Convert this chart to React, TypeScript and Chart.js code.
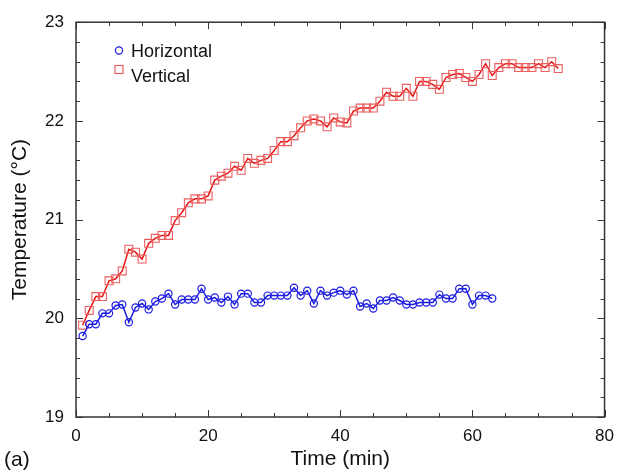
import React, { useEffect, useRef } from "react";
import { Chart, registerables } from "chart.js";

Chart.register(...registerables);

const timeMin = [
  1, 2, 3, 4, 5, 6, 7, 8, 9, 10, 11, 12, 13, 14, 15, 16, 17, 18, 19, 20,
  21, 22, 23, 24, 25, 26, 27, 28, 29, 30, 31, 32, 33, 34, 35, 36, 37, 38, 39, 40,
  41, 42, 43, 44, 45, 46, 47, 48, 49, 50, 51, 52, 53, 54, 55, 56, 57, 58, 59, 60,
  61, 62, 63, 64, 65, 66, 67, 68, 69, 70, 71, 72, 73,
];

const horizontalTemp = [
  19.82, 19.94, 19.94, 20.05, 20.05, 20.13, 20.14, 19.96, 20.11, 20.15,
  20.09, 20.17, 20.2, 20.25, 20.14, 20.19, 20.19, 20.19, 20.3, 20.19,
  20.21, 20.16, 20.22, 20.14, 20.25, 20.25, 20.16, 20.16, 20.23, 20.23,
  20.23, 20.23, 20.31, 20.23, 20.28, 20.15, 20.28, 20.23, 20.26, 20.28,
  20.24, 20.28, 20.12, 20.15, 20.1, 20.18, 20.18, 20.21, 20.18, 20.14,
  20.14, 20.16, 20.16, 20.16, 20.24, 20.2, 20.2, 20.3, 20.3, 20.14,
  20.23, 20.23, 20.2,
];

const verticalTemp = [
  19.93, 20.08, 20.22, 20.22, 20.38, 20.4, 20.48, 20.7, 20.67, 20.6,
  20.76, 20.81, 20.84, 20.84, 20.99, 21.07, 21.17, 21.21, 21.21, 21.24,
  21.4, 21.44, 21.47, 21.54, 21.5, 21.62, 21.57, 21.6, 21.62, 21.7,
  21.79, 21.79, 21.85, 21.93, 22.0, 22.02, 22.0, 21.94, 22.03, 21.99,
  21.98, 22.1, 22.13, 22.13, 22.13, 22.2, 22.29, 22.25, 22.25, 22.33,
  22.25, 22.4, 22.4, 22.37, 22.32, 22.44, 22.47, 22.48, 22.44, 22.4,
  22.47, 22.58, 22.46, 22.54, 22.58, 22.58, 22.54, 22.54, 22.54, 22.58,
  22.54, 22.6, 22.53,
];

const seriesNames = ["Horizontal", "Vertical"];
const xMajorTicks = [0, 20, 40, 60, 80];
const xMinorStep = 5;
const yMajorTicks = [19, 20, 21, 22, 23];
const yMinorStep = 0.2;

const BLUE = "rgb(28,28,225)";
const RED_LINE = "rgb(232,20,20)";
const RED_MARK = "rgb(236,95,95)";
const FONT = "'Liberation Sans', Arial, Helvetica, sans-serif";

const framePlugin = {
  id: "frameTicks",
  afterDraw(chart: any) {
    const { ctx, chartArea } = chart;
    const { left, right, top, bottom } = chartArea;
    const xs = chart.scales.x;
    const ys = chart.scales.y;
    ctx.save();
    ctx.strokeStyle = "#3a3a3a";
    ctx.lineWidth = 1;
    for (let v = xs.min; v <= xs.max + 1e-9; v += xMinorStep) {
      const px = Math.round(xs.getPixelForValue(v)) + 0.5;
      const len = xMajorTicks.includes(v) ? 7 : 4;
      ctx.beginPath();
      ctx.moveTo(px, bottom);
      ctx.lineTo(px, bottom - len);
      ctx.moveTo(px, top);
      ctx.lineTo(px, top + len);
      ctx.stroke();
    }
    for (let k = 0; ys.min + k * yMinorStep <= ys.max + 1e-9; k++) {
      const v = ys.min + k * yMinorStep;
      const py = Math.round(ys.getPixelForValue(v)) + 0.5;
      const isMajor = yMajorTicks.some((t) => Math.abs(t - v) < 1e-6);
      const len = isMajor ? 7 : 4;
      ctx.beginPath();
      ctx.moveTo(left, py);
      ctx.lineTo(left + len, py);
      ctx.moveTo(right, py);
      ctx.lineTo(right - len, py);
      ctx.stroke();
    }
    ctx.lineWidth = 1.5;
    ctx.strokeStyle = "#333";
    ctx.strokeRect(left, top, right - left, bottom - top);

    // legend
    const ds = chart.data.datasets;
    ctx.font = `18px ${FONT}`;
    ctx.fillStyle = "#111";
    ctx.textBaseline = "alphabetic";
    ctx.textAlign = "left";
    ctx.lineWidth = 1.2;
    ctx.strokeStyle = ds[0].pointBorderColor;
    ctx.beginPath();
    ctx.arc(119, 50.5, 3.6, 0, Math.PI * 2);
    ctx.stroke();
    ctx.fillText(ds[0].label, 131, 56.5);
    ctx.strokeStyle = ds[1].pointBorderColor;
    ctx.strokeRect(115, 65.5, 8, 8);
    ctx.fillText(ds[1].label, 131, 81.5);

    // panel label
    ctx.font = `21px ${FONT}`;
    ctx.fillText("(a)", 4, 466);
    ctx.restore();
  },
};

export default function App() {
  const ref = useRef<HTMLCanvasElement | null>(null);

  useEffect(() => {
    if (!ref.current) return;
    const chart = new Chart(ref.current, {
      type: "line",
      data: {
        datasets: [
          {
            label: seriesNames[0],
            data: horizontalTemp.map((v, i) => ({ x: timeMin[i], y: v })),
            borderColor: BLUE,
            borderWidth: 1.5,
            pointStyle: "circle",
            pointRadius: 3.6,
            pointBorderWidth: 1.2,
            pointBorderColor: BLUE,
            pointBackgroundColor: "rgba(0,0,0,0)",
            tension: 0,
            fill: false,
          },
          {
            label: seriesNames[1],
            data: verticalTemp.map((v, i) => ({ x: timeMin[i], y: v })),
            borderColor: RED_LINE,
            borderWidth: 1.5,
            pointStyle: "rect",
            pointRadius: 5.6,
            pointBorderWidth: 1.1,
            pointBorderColor: RED_MARK,
            pointBackgroundColor: "rgba(0,0,0,0)",
            tension: 0,
            fill: false,
          },
        ],
      },
      options: {
        animation: false,
        responsive: false,
        maintainAspectRatio: false,
        layout: { padding: { top: 17, right: 13, left: 0, bottom: 0 } },
        plugins: {
          legend: { display: false },
          tooltip: { enabled: false },
        },
        scales: {
          x: {
            type: "linear",
            min: 0,
            max: 80,
            grid: { display: false, drawTicks: false },
            border: { display: false },
            ticks: {
              stepSize: 20,
              padding: 9,
              color: "#111",
              font: { family: FONT, size: 17 },
              maxRotation: 0,
            },
            title: {
              display: true,
              text: "Time (min)",
              color: "#111",
              font: { family: FONT, size: 21, lineHeight: 1 },
              padding: { top: 0, bottom: 0 },
            },
            afterFit: (s: any) => {
              s.height = 53;
            },
          },
          y: {
            min: 19,
            max: 23,
            grid: { display: false, drawTicks: false },
            border: { display: false },
            ticks: {
              stepSize: 1,
              padding: 12,
              color: "#111",
              font: { family: FONT, size: 17 },
            },
            title: {
              display: true,
              text: "Temperature (°C)",
              color: "#111",
              font: { family: FONT, size: 21, lineHeight: 1 },
              padding: { top: 10, bottom: 0 },
            },
            afterFit: (s: any) => {
              s.width = 76;
            },
          },
        },
      },
      plugins: [framePlugin],
    });
    return () => chart.destroy();
  }, []);

  return (
    <div style={{ position: "fixed", left: 0, top: 0, width: 623, height: 470, background: "#fff" }}>
      <canvas ref={ref} width={623} height={470} style={{ width: 623, height: 470, display: "block" }} />
    </div>
  );
}
